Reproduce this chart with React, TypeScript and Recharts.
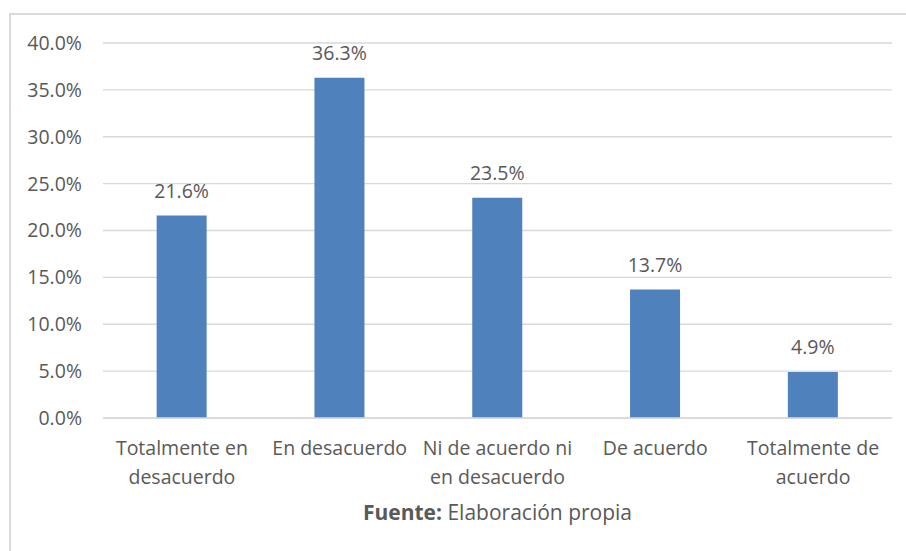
import React from "react";
import { BarChart, Bar, XAxis, YAxis, CartesianGrid, LabelList } from "recharts";

// Category labels (line breaks as in the original chart)
const categories = [
  "Totalmente en\ndesacuerdo",
  "En desacuerdo",
  "Ni de acuerdo ni\nen desacuerdo",
  "De acuerdo",
  "Totalmente de\nacuerdo",
];

// Percentage of responses
const percentages = [21.6, 36.3, 23.5, 13.7, 4.9];

const yTicks = [0, 5, 10, 15, 20, 25, 30, 35, 40];

const FONT = "'Open Sans', sans-serif";
const TEXT = "#595959";
const FS = 19.5;

const data = categories.map((category, i) => ({
  category,
  value: percentages[i],
}));

function CategoryTick(props: any) {
  const { x, y, payload } = props;
  const lines = String(payload.value).split("\n");
  return (
    <g transform={`translate(${x},${y})`}>
      {lines.map((line, i) => (
        <text
          key={i}
          x={0}
          y={i * 29}
          dy={29}
          textAnchor="middle"
          fill={TEXT}
          fontSize={FS}
          fontFamily={FONT}
        >
          {line}
        </text>
      ))}
    </g>
  );
}

export default function App() {
  return (
    <div
      style={{
        position: "absolute",
        left: 0,
        top: 0,
        width: 906,
        height: 551,
        background: "#fff",
        fontFamily: FONT,
      }}
    >
      <div
        style={{
          position: "absolute",
          left: 9,
          top: 13,
          width: 897,
          height: 538,
          borderLeft: "2px solid #D9D9D9",
          borderTop: "2px solid #D9D9D9",
        }}
      />
      <div style={{ position: "absolute", left: 0, top: 0 }}>
        <BarChart
          width={906}
          height={551}
          data={data}
          margin={{ top: 43, right: 14, left: 8, bottom: 0 }}
          barCategoryGap="34%"
        >
          <CartesianGrid vertical={false} stroke="#D9D9D9" strokeWidth={1.3} />
          <XAxis
            dataKey="category"
            tick={<CategoryTick />}
            tickLine={false}
            axisLine={{ stroke: "#D9D9D9", strokeWidth: 1.3 }}
            interval={0}
            height={133}
          />
          <YAxis
            width={95}
            domain={[0, 40]}
            ticks={yTicks}
            tickFormatter={(v: number) => `${v.toFixed(1)}%`}
            tick={{ fill: TEXT, fontSize: FS, fontFamily: FONT }}
            tickLine={false}
            tickSize={0}
            tickMargin={21}
            axisLine={false}
          />
          <Bar dataKey="value" fill="#4F81BD" isAnimationActive={false}>
            <LabelList
              dataKey="value"
              position="top"
              offset={18}
              formatter={(v: any) => `${Number(v).toFixed(1)}%`}
              fill={TEXT}
              fontSize={FS}
              fontFamily={FONT}
            />
          </Bar>
        </BarChart>
      </div>
      <div
        style={{
          position: "absolute",
          left: 103,
          width: 789,
          top: 497,
          textAlign: "center",
          fontSize: 21,
          color: TEXT,
          lineHeight: "30px",
        }}
      >
        <b>Fuente:</b> Elaboración propia
      </div>
    </div>
  );
}
